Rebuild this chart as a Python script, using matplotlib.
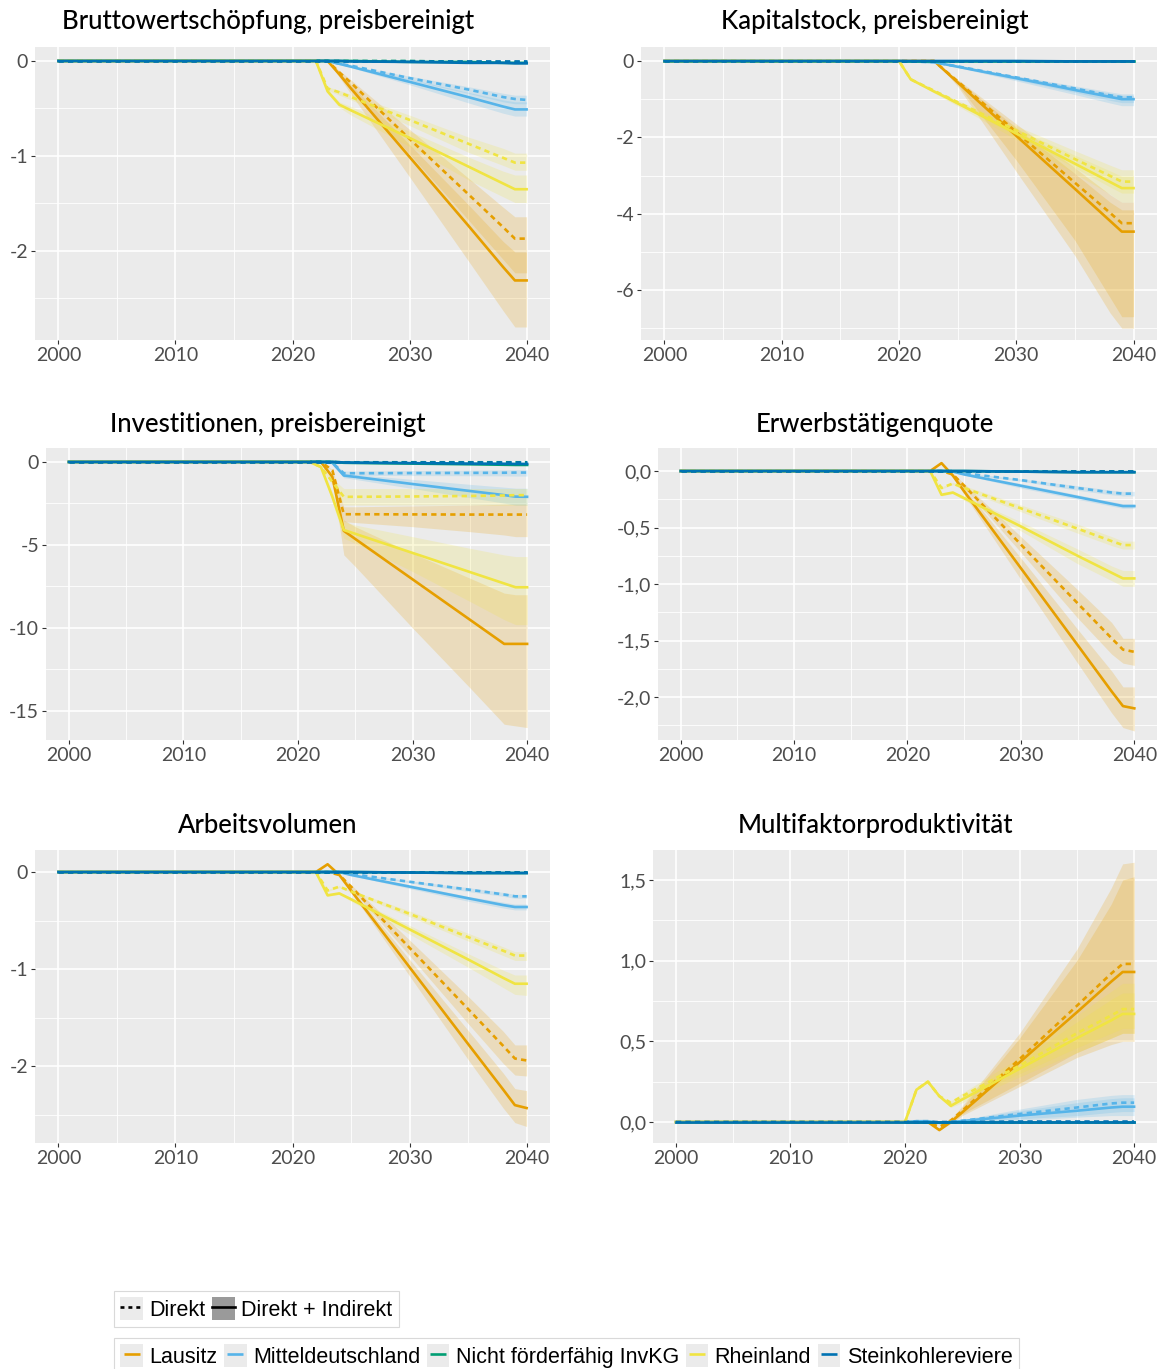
"""
Regionale Effekte des Kohleausstiegs: sechs Panels im ggplot-Stil,
gestrichelt = Direkt, durchgezogen = Direkt + Indirekt, Bänder = Unsicherheit.
"""

import matplotlib
matplotlib.use("Agg")
import matplotlib.pyplot as plt
from matplotlib.lines import Line2D
from matplotlib.patches import Patch
from matplotlib.legend_handler import HandlerTuple
from matplotlib.ticker import FixedLocator, FuncFormatter, MultipleLocator

W, H = 1167, 1369

YEARS = [2000, 2020, 2021, 2022, 2023, 2024, 2025, 2030, 2035, 2038, 2039, 2040]

REGIONS = ["Lausitz", "Mitteldeutschland", "Nicht förderfähig InvKG",
           "Rheinland", "Steinkohlereviere"]
COLORS = ["#E69F00", "#56B4E9", "#009E73", "#F0E442", "#0072B2"]
# regions with a visible uncertainty band (rows of the *_LO / *_HI tables)
RIB_REGIONS = ["Lausitz", "Mitteldeutschland", "Rheinland"]

# ---------------------------------------------------------------------------
# Bruttowertschöpfung
# ---------------------------------------------------------------------------
BWS_D = [
    [0, 0, 0, 0, 0, -0.12, -0.23, -0.82, -1.40, -1.75, -1.87, -1.87],
    [0, 0, 0, 0, 0, -0.03, -0.05, -0.18, -0.30, -0.38, -0.40, -0.41],
    [0, 0, 0, 0, 0, 0, 0, 0, -0.01, -0.01, -0.01, -0.01],
    [0, 0, 0, 0, -0.29, -0.33, -0.38, -0.62, -0.87, -1.02, -1.07, -1.07],
    [0, 0, 0, 0, 0, 0, 0, 0, 0, 0, 0, 0],
]
BWS_DI = [
    [0, 0, 0, 0, 0, -0.14, -0.29, -1.01, -1.73, -2.17, -2.31, -2.31],
    [0, 0, 0, 0, 0, -0.03, -0.06, -0.22, -0.38, -0.48, -0.51, -0.51],
    [0, 0, 0, 0, 0, 0, 0, -0.01, -0.01, -0.02, -0.02, -0.02],
    [0, 0, 0, 0, -0.32, -0.46, -0.52, -0.81, -1.11, -1.29, -1.35, -1.35],
    [0, 0, 0, 0, 0, 0, -0.005, -0.01, -0.02, -0.02, -0.025, -0.025],
]
BWS_D_HI = [
    [0, 0, 0, 0, 0, -0.10, -0.20, -0.72, -1.23, -1.54, -1.64, -1.64],
    [0, 0, 0, 0, 0, -0.02, -0.05, -0.16, -0.27, -0.34, -0.36, -0.36],
    [0, 0, 0, 0, -0.27, -0.31, -0.35, -0.57, -0.80, -0.92, -0.97, -0.97],
]
BWS_D_LO = [
    [0, 0, 0, 0, 0, -0.14, -0.28, -0.98, -1.67, -2.09, -2.23, -2.23],
    [0, 0, 0, 0, 0, -0.03, -0.06, -0.20, -0.34, -0.43, -0.45, -0.45],
    [0, 0, 0, 0, -0.31, -0.36, -0.41, -0.68, -0.96, -1.10, -1.15, -1.15],
]
BWS_DI_HI = [
    [0, 0, 0, 0, 0, -0.12, -0.25, -0.88, -1.51, -1.90, -2.01, -2.01],
    [0, 0, 0, 0, 0, -0.03, -0.05, -0.19, -0.33, -0.41, -0.43, -0.43],
    [0, 0, 0, 0, -0.30, -0.43, -0.48, -0.74, -1.01, -1.16, -1.20, -1.20],
]
BWS_DI_LO = [
    [0, 0, 0, 0, 0, -0.17, -0.35, -1.22, -2.10, -2.63, -2.80, -2.80],
    [0, 0, 0, 0, 0, -0.04, -0.07, -0.25, -0.44, -0.55, -0.58, -0.58],
    [0, 0, 0, 0, -0.34, -0.49, -0.57, -0.90, -1.25, -1.43, -1.49, -1.49],
]

# ---------------------------------------------------------------------------
# Kapitalstock
# ---------------------------------------------------------------------------
KAP_D = [
    [0, 0, 0, 0, 0, -0.27, -0.53, -1.86, -3.19, -3.98, -4.25, -4.25],
    [0, 0, -0.01, -0.02, -0.03, -0.09, -0.14, -0.43, -0.72, -0.90, -0.95, -0.95],
    [0, 0, 0, 0, 0, 0, 0, 0, 0, 0, 0, 0],
    [0, 0, -0.48, -0.63, -0.78, -0.93, -1.08, -1.82, -2.57, -3.01, -3.16, -3.16],
    [0, 0, 0, 0, 0, 0, 0, 0, 0, 0, 0, 0],
]
KAP_DI = [
    [0, 0, 0, 0, 0, -0.28, -0.56, -1.96, -3.35, -4.19, -4.47, -4.47],
    [0, 0, -0.01, -0.02, -0.03, -0.09, -0.15, -0.45, -0.76, -0.94, -1.00, -1.00],
    [0, 0, 0, 0, 0, 0, 0, 0, 0, 0, 0, 0],
    [0, 0, -0.48, -0.64, -0.80, -0.95, -1.11, -1.90, -2.69, -3.17, -3.33, -3.33],
    [0, 0, 0, 0, 0, 0, 0, 0, -0.01, -0.01, -0.01, -0.01],
]
KAP_D_HI = [
    [0, 0, 0, 0, 0, -0.25, -0.48, -1.65, -2.80, -3.50, -3.70, -3.70],
    [0, 0, -0.01, -0.02, -0.03, -0.08, -0.13, -0.39, -0.65, -0.81, -0.86, -0.86],
    [0, 0, -0.47, -0.61, -0.75, -0.89, -1.03, -1.70, -2.35, -2.73, -2.85, -2.85],
]
KAP_D_LO = [
    [0, 0, 0, 0, 0, -0.30, -0.62, -2.60, -4.70, -6.20, -6.70, -6.70],
    [0, 0, -0.01, -0.02, -0.03, -0.10, -0.16, -0.49, -0.82, -1.03, -1.09, -1.09],
    [0, 0, -0.49, -0.65, -0.81, -0.97, -1.14, -1.96, -2.80, -3.30, -3.46, -3.46],
]
KAP_DI_HI = [
    [0, 0, 0, 0, 0, -0.26, -0.50, -1.75, -2.95, -3.70, -3.90, -3.90],
    [0, 0, -0.01, -0.02, -0.03, -0.08, -0.13, -0.40, -0.68, -0.85, -0.90, -0.90],
    [0, 0, -0.47, -0.62, -0.77, -0.91, -1.06, -1.77, -2.47, -2.88, -3.02, -3.02],
]
KAP_DI_LO = [
    [0, 0, 0, 0, 0, -0.32, -0.66, -2.90, -5.10, -6.60, -7.00, -7.00],
    [0, 0, -0.01, -0.02, -0.03, -0.10, -0.17, -0.52, -0.88, -1.10, -1.17, -1.17],
    [0, 0, -0.49, -0.66, -0.84, -1.01, -1.18, -2.06, -2.95, -3.49, -3.70, -3.70],
]

# ---------------------------------------------------------------------------
# Investitionen
# ---------------------------------------------------------------------------
INV_D = [
    [0, 0, 0, 0, -0.5, -3.15, -3.15, -3.16, -3.17, -3.17, -3.17, -3.17],
    [0, 0, 0, 0, -0.05, -0.68, -0.68, -0.67, -0.66, -0.65, -0.64, -0.64],
    [0, 0, 0, 0, 0, -0.02, -0.02, -0.02, -0.02, -0.02, -0.02, -0.02],
    [0, 0, 0, -0.3, -1.2, -2.1, -2.1, -2.08, -2.05, -2.02, -2.0, -2.0],
    [0, 0, 0, 0, 0, 0, 0, 0, 0, 0, 0, 0],
]
INV_DI = [
    [0, 0, 0, 0, -0.9, -4.15, -4.64, -7.07, -9.50, -10.96, -10.96, -10.96],
    [0, 0, 0, 0, -0.05, -0.82, -0.90, -1.33, -1.75, -2.00, -2.09, -2.10],
    [0, 0, 0, 0, 0, -0.05, -0.06, -0.10, -0.14, -0.17, -0.18, -0.18],
    [0, 0, 0, -0.3, -2.1, -4.1, -4.33, -5.48, -6.63, -7.32, -7.55, -7.55],
    [0, 0, 0, 0, 0, -0.03, -0.04, -0.07, -0.10, -0.11, -0.12, -0.12],
]
INV_D_HI = [
    [0, 0, 0, 0, -0.45, -2.7, -2.7, -2.65, -2.6, -2.55, -2.55, -2.55],
    [0, 0, 0, 0, -0.05, -0.55, -0.55, -0.52, -0.50, -0.48, -0.47, -0.47],
    [0, 0, 0, -0.28, -1.0, -1.6, -1.6, -1.6, -1.6, -1.6, -1.6, -1.6],
]
INV_D_LO = [
    [0, 0, 0, 0, -0.55, -3.6, -3.65, -3.9, -4.2, -4.4, -4.5, -4.5],
    [0, 0, 0, 0, -0.05, -0.8, -0.8, -0.82, -0.83, -0.84, -0.85, -0.85],
    [0, 0, 0, -0.32, -1.4, -2.6, -2.6, -2.6, -2.6, -2.6, -2.6, -2.6],
]
INV_DI_HI = [
    [0, 0, 0, 0, -0.7, -3.5, -3.9, -5.5, -7.0, -7.9, -8.0, -8.0],
    [0, 0, 0, 0, -0.05, -0.7, -0.76, -1.05, -1.35, -1.52, -1.58, -1.58],
    [0, 0, 0, -0.28, -1.8, -3.6, -3.8, -4.5, -5.2, -5.6, -5.7, -5.7],
]
INV_DI_LO = [
    [0, 0, 0, 0, -1.0, -5.6, -6.3, -10.0, -13.6, -15.8, -15.9, -16.0],
    [0, 0, 0, 0, -0.05, -0.95, -1.05, -1.6, -2.15, -2.48, -2.6, -2.6],
    [0, 0, 0, -0.32, -2.4, -4.6, -4.9, -6.6, -8.4, -9.5, -9.8, -9.8],
]

# ---------------------------------------------------------------------------
# Erwerbstätigenquote
# ---------------------------------------------------------------------------
ERW_D = [
    [0, 0, 0, 0, 0, -0.03, -0.13, -0.65, -1.17, -1.48, -1.58, -1.60],
    [0, 0, 0, 0, 0, 0, -0.02, -0.08, -0.15, -0.19, -0.20, -0.20],
    [0, 0, 0, 0, 0, 0, 0, 0, 0, 0, 0, 0],
    [0, 0, 0, 0, -0.15, -0.11, -0.15, -0.33, -0.51, -0.62, -0.655, -0.655],
    [0, 0, 0, 0, 0, 0, 0, 0, 0, 0, 0, 0],
]
ERW_DI = [
    [0, 0, 0, 0, 0.07, -0.04, -0.18, -0.86, -1.54, -1.95, -2.08, -2.10],
    [0, 0, 0, 0, 0, -0.005, -0.03, -0.13, -0.23, -0.29, -0.31, -0.31],
    [0, 0, 0, 0, 0, 0, 0, -0.005, -0.01, -0.01, -0.01, -0.01],
    [0, 0, 0, 0, -0.21, -0.19, -0.24, -0.49, -0.75, -0.90, -0.95, -0.95],
    [0, 0, 0, 0, 0, 0, 0, -0.005, -0.01, -0.01, -0.01, -0.01],
]
ERW_D_HI = [
    [0, 0, 0, 0, 0, -0.02, -0.11, -0.58, -1.05, -1.34, -1.48, -1.48],
    [0, 0, 0, 0, 0, 0, -0.015, -0.07, -0.13, -0.17, -0.18, -0.18],
    [0, 0, 0, 0, -0.14, -0.10, -0.13, -0.30, -0.47, -0.58, -0.62, -0.62],
]
ERW_D_LO = [
    [0, 0, 0, 0, 0, -0.04, -0.15, -0.72, -1.30, -1.62, -1.70, -1.72],
    [0, 0, 0, 0, 0, 0, -0.025, -0.09, -0.17, -0.21, -0.22, -0.22],
    [0, 0, 0, 0, -0.16, -0.12, -0.17, -0.36, -0.55, -0.66, -0.69, -0.69],
]
ERW_DI_HI = [
    [0, 0, 0, 0, 0.07, -0.03, -0.15, -0.77, -1.40, -1.77, -1.91, -1.91],
    [0, 0, 0, 0, 0, 0, -0.025, -0.11, -0.21, -0.27, -0.29, -0.29],
    [0, 0, 0, 0, -0.20, -0.18, -0.22, -0.45, -0.69, -0.84, -0.88, -0.88],
]
ERW_DI_LO = [
    [0, 0, 0, 0, 0.07, -0.05, -0.21, -0.96, -1.70, -2.14, -2.27, -2.30],
    [0, 0, 0, 0, 0, -0.01, -0.035, -0.15, -0.25, -0.31, -0.33, -0.33],
    [0, 0, 0, 0, -0.22, -0.20, -0.26, -0.53, -0.82, -0.97, -1.02, -1.02],
]

# ---------------------------------------------------------------------------
# Arbeitsvolumen
# ---------------------------------------------------------------------------
ARB_D = [
    [0, 0, 0, 0, 0, -0.03, -0.15, -0.78, -1.41, -1.79, -1.92, -1.94],
    [0, 0, 0, 0, 0, 0, -0.02, -0.10, -0.18, -0.23, -0.25, -0.25],
    [0, 0, 0, 0, 0, 0, 0, 0, 0, 0, 0, 0],
    [0, 0, 0, 0, -0.19, -0.15, -0.20, -0.43, -0.67, -0.81, -0.86, -0.86],
    [0, 0, 0, 0, 0, 0, 0, 0, 0, 0, 0, 0],
]
ARB_DI = [
    [0, 0, 0, 0, 0.08, -0.03, -0.19, -0.98, -1.77, -2.24, -2.40, -2.43],
    [0, 0, 0, 0, 0, 0, -0.03, -0.15, -0.27, -0.34, -0.36, -0.36],
    [0, 0, 0, 0, 0, 0, 0, -0.005, -0.01, -0.01, -0.01, -0.01],
    [0, 0, 0, 0, -0.24, -0.22, -0.28, -0.59, -0.90, -1.09, -1.15, -1.15],
    [0, 0, 0, 0, 0, 0, 0, -0.005, -0.01, -0.01, -0.01, -0.01],
]
ARB_D_HI = [
    [0, 0, 0, 0, 0, -0.02, -0.13, -0.70, -1.28, -1.64, -1.78, -1.78],
    [0, 0, 0, 0, 0, 0, -0.015, -0.09, -0.16, -0.21, -0.23, -0.23],
    [0, 0, 0, 0, -0.18, -0.14, -0.19, -0.40, -0.63, -0.77, -0.82, -0.82],
]
ARB_D_LO = [
    [0, 0, 0, 0, 0, -0.04, -0.17, -0.86, -1.56, -1.97, -2.09, -2.10],
    [0, 0, 0, 0, 0, 0, -0.025, -0.11, -0.20, -0.25, -0.27, -0.27],
    [0, 0, 0, 0, -0.20, -0.16, -0.21, -0.46, -0.71, -0.86, -0.91, -0.91],
]
ARB_DI_HI = [
    [0, 0, 0, 0, 0.08, -0.02, -0.17, -0.90, -1.63, -2.07, -2.23, -2.25],
    [0, 0, 0, 0, 0, 0, -0.025, -0.13, -0.25, -0.31, -0.33, -0.33],
    [0, 0, 0, 0, -0.23, -0.21, -0.26, -0.55, -0.84, -1.01, -1.06, -1.06],
]
ARB_DI_LO = [
    [0, 0, 0, 0, 0.08, -0.04, -0.21, -1.07, -1.93, -2.43, -2.58, -2.62],
    [0, 0, 0, 0, 0, 0, -0.035, -0.17, -0.30, -0.37, -0.39, -0.39],
    [0, 0, 0, 0, -0.25, -0.23, -0.30, -0.64, -0.98, -1.19, -1.26, -1.27],
]

# ---------------------------------------------------------------------------
# Multifaktorproduktivität
# ---------------------------------------------------------------------------
MFP_D = [
    [0, 0, 0, 0, -0.03, 0.01, 0.07, 0.39, 0.72, 0.92, 0.98, 0.98],
    [0, 0, 0.005, 0.005, -0.005, 0, 0.008, 0.05, 0.09, 0.115, 0.12, 0.12],
    [0, 0, 0, 0, 0, 0, 0, 0, 0, 0, 0, 0],
    [0, 0, 0.20, 0.25, 0.16, 0.12, 0.16, 0.35, 0.55, 0.66, 0.70, 0.70],
    [0, 0, 0, 0, 0, 0, 0, 0.003, 0.003, 0.003, 0.003, 0.003],
]
MFP_DI = [
    [0, 0, 0, 0, -0.05, 0, 0.06, 0.37, 0.68, 0.87, 0.93, 0.93],
    [0, 0, 0.005, 0.005, -0.005, 0, 0.006, 0.04, 0.07, 0.09, 0.095, 0.095],
    [0, 0, 0, 0, 0, 0, 0, 0, 0, 0, 0, 0],
    [0, 0, 0.20, 0.25, 0.16, 0.10, 0.14, 0.33, 0.52, 0.63, 0.67, 0.67],
    [0, 0, 0, 0, 0, 0, 0, 0, 0, 0, 0, 0],
]
MFP_D_HI = [
    [0, 0, 0, 0, -0.03, 0.02, 0.10, 0.55, 1.07, 1.45, 1.60, 1.61],
    [0, 0, 0.005, 0.005, -0.005, 0.002, 0.015, 0.08, 0.14, 0.165, 0.17, 0.17],
    [0, 0, 0.20, 0.25, 0.16, 0.13, 0.18, 0.40, 0.66, 0.81, 0.86, 0.86],
]
MFP_D_LO = [
    [0, 0, 0, 0, -0.03, 0.0, 0.05, 0.24, 0.43, 0.52, 0.55, 0.55],
    [0, 0, 0.005, 0.005, -0.005, -0.002, 0.0, 0.02, 0.04, 0.06, 0.065, 0.065],
    [0, 0, 0.20, 0.25, 0.16, 0.11, 0.14, 0.30, 0.46, 0.55, 0.58, 0.58],
]
MFP_DI_HI = [
    [0, 0, 0, 0, -0.05, 0.01, 0.09, 0.52, 1.00, 1.35, 1.50, 1.52],
    [0, 0, 0.005, 0.005, -0.005, 0.002, 0.012, 0.07, 0.12, 0.145, 0.15, 0.15],
    [0, 0, 0.20, 0.25, 0.16, 0.11, 0.16, 0.38, 0.62, 0.76, 0.80, 0.80],
]
MFP_DI_LO = [
    [0, 0, 0, 0, -0.05, -0.01, 0.04, 0.22, 0.40, 0.48, 0.50, 0.50],
    [0, 0, 0.005, 0.005, -0.005, -0.002, 0.0, 0.01, 0.03, 0.04, 0.04, 0.04],
    [0, 0, 0.20, 0.25, 0.16, 0.09, 0.12, 0.28, 0.43, 0.52, 0.55, 0.55],
]

# title, data tables, panel box in px (x0, y0, x1, y1), ylim, y ticks, comma labels,
# title centre x in px
PANELS = [
    ("Bruttowertschöpfung, preisbereinigt",
     (BWS_D, BWS_DI, BWS_D_LO, BWS_D_HI, BWS_DI_LO, BWS_DI_HI),
     (35, 47, 550, 340), (-2.937, 0.147), [0, -1, -2], False, 268),
    ("Kapitalstock, preisbereinigt",
     (KAP_D, KAP_DI, KAP_D_LO, KAP_D_HI, KAP_DI_LO, KAP_DI_HI),
     (641, 47, 1157, 340), (-7.31, 0.367), [0, -2, -4, -6], False, 875),
    ("Investitionen, preisbereinigt",
     (INV_D, INV_DI, INV_D_LO, INV_D_HI, INV_DI_LO, INV_DI_HI),
     (46, 448, 550, 740), (-16.75, 0.84), [0, -5, -10, -15], False, 268),
    ("Erwerbstätigenquote",
     (ERW_D, ERW_DI, ERW_D_LO, ERW_D_HI, ERW_DI_LO, ERW_DI_HI),
     (658, 448, 1157, 740), (-2.38, 0.204), [0, -0.5, -1.0, -1.5, -2.0], True, 875),
    ("Arbeitsvolumen",
     (ARB_D, ARB_DI, ARB_D_LO, ARB_D_HI, ARB_DI_LO, ARB_DI_HI),
     (35, 850, 550, 1143), (-2.79, 0.227), [0, -1, -2], False, 268),
    ("Multifaktorproduktivität",
     (MFP_D, MFP_DI, MFP_D_LO, MFP_D_HI, MFP_DI_LO, MFP_DI_HI),
     (653, 850, 1157, 1143), (-0.13, 1.686), [0, 0.5, 1.0, 1.5], True, 875),
]

TITLE_Y = [22, 22, 424, 424, 826, 826]

BG = "#EBEBEB"
TITLE_FONT = "Lato"
TICK_FONT = "Lato"
LEGEND_FONT = "Liberation Sans"
DASH = (0, (2.0, 1.6))
LW = 1.9


def comma_fmt(v, _pos):
    return f"{v:.1f}".replace(".", ",")


def int_fmt(v, _pos):
    return f"{v:.0f}"


def draw_panel(fig, title, tables, box, ylim, yticks, comma, title_x, title_y):
    d, di, d_lo, d_hi, di_lo, di_hi = tables
    x0, y0, x1, y1 = box
    ax = fig.add_axes([x0 / W, 1 - y1 / H, (x1 - x0) / W, (y1 - y0) / H])
    ax.set_facecolor(BG)
    for s in ax.spines.values():
        s.set_visible(False)

    # ribbons first (like a ggplot geom_ribbon layer under geom_line)
    for k, reg in enumerate(RIB_REGIONS):
        col = COLORS[REGIONS.index(reg)]
        ax.fill_between(YEARS, d_lo[k], d_hi[k], color=col, alpha=0.2, lw=0)
        ax.fill_between(YEARS, di_lo[k], di_hi[k], color=col, alpha=0.2, lw=0)

    for i, col in enumerate(COLORS):
        ax.plot(YEARS, d[i], color=col, lw=LW, ls=DASH, dash_capstyle="butt")
        ax.plot(YEARS, di[i], color=col, lw=LW)

    ax.set_xlim(1998, 2042)
    ax.set_ylim(*ylim)
    ax.xaxis.set_major_locator(FixedLocator([2000, 2010, 2020, 2030, 2040]))
    ax.xaxis.set_minor_locator(FixedLocator([2005, 2015, 2025, 2035]))
    ax.yaxis.set_major_locator(FixedLocator(yticks))
    step = abs(yticks[1] - yticks[0])
    ax.yaxis.set_minor_locator(MultipleLocator(step / 2, offset=step / 2))
    ax.yaxis.set_major_formatter(FuncFormatter(comma_fmt if comma else int_fmt))

    ax.grid(which="major", color="white", lw=1.2)
    ax.grid(which="minor", color="white", lw=0.6)
    ax.set_axisbelow(True)
    ax.tick_params(which="major", length=3, width=0.8, color="#333333",
                   labelcolor="#4D4D4D", labelsize=14, pad=2)
    ax.tick_params(which="minor", length=0)
    for lab in ax.get_xticklabels() + ax.get_yticklabels():
        lab.set_fontfamily(TICK_FONT)

    fig.text(title_x / W, 1 - title_y / H, title, ha="center", va="center",
             fontsize=18.5, fontfamily=TITLE_FONT, fontweight="medium",
             color="black")


def main():
    fig = plt.figure(figsize=(W / 100, H / 100), dpi=100)

    for (title, tables, box, ylim, yticks, comma, tx), ty in zip(PANELS, TITLE_Y):
        draw_panel(fig, title, tables, box, ylim, yticks, comma, tx, ty)

    legend_kw = dict(handler_map={tuple: HandlerTuple(ndivide=1, pad=0)},
                     loc="upper left", frameon=True, fancybox=False,
                     edgecolor="#D0D0D0", handlelength=1.05, handleheight=1.2,
                     handletextpad=0.3, columnspacing=0.3, borderpad=0.3,
                     borderaxespad=0, prop={"family": LEGEND_FONT, "size": 15.5})

    # linetype legend
    lt_handles = [
        (Patch(fc=BG, ec="none"),
         Line2D([], [], color="black", lw=LW, ls=(0, (1.5, 1.5)))),
        (Patch(fc="#9A9A9A", ec="none"), Line2D([], [], color="black", lw=LW)),
    ]
    leg1 = fig.legend(lt_handles, ["Direkt", "Direkt + Indirekt"], ncol=2,
                      bbox_to_anchor=(114 / W, 1 - 1291 / H), **legend_kw)
    leg1.get_frame().set_linewidth(0.8)

    # colour legend: short coloured dash on a grey key
    col_handles = [
        (Patch(fc=BG, ec="none"),
         Line2D([], [], color=c, ls="none", marker="_", markersize=12,
                markeredgewidth=LW))
        for c in COLORS
    ]
    leg2 = fig.legend(col_handles, REGIONS, ncol=5,
                      bbox_to_anchor=(114 / W, 1 - 1338 / H), **legend_kw)
    leg2.get_frame().set_linewidth(0.8)

    fig.savefig("out.png", dpi=100)
    plt.close(fig)


if __name__ == "__main__":
    main()
